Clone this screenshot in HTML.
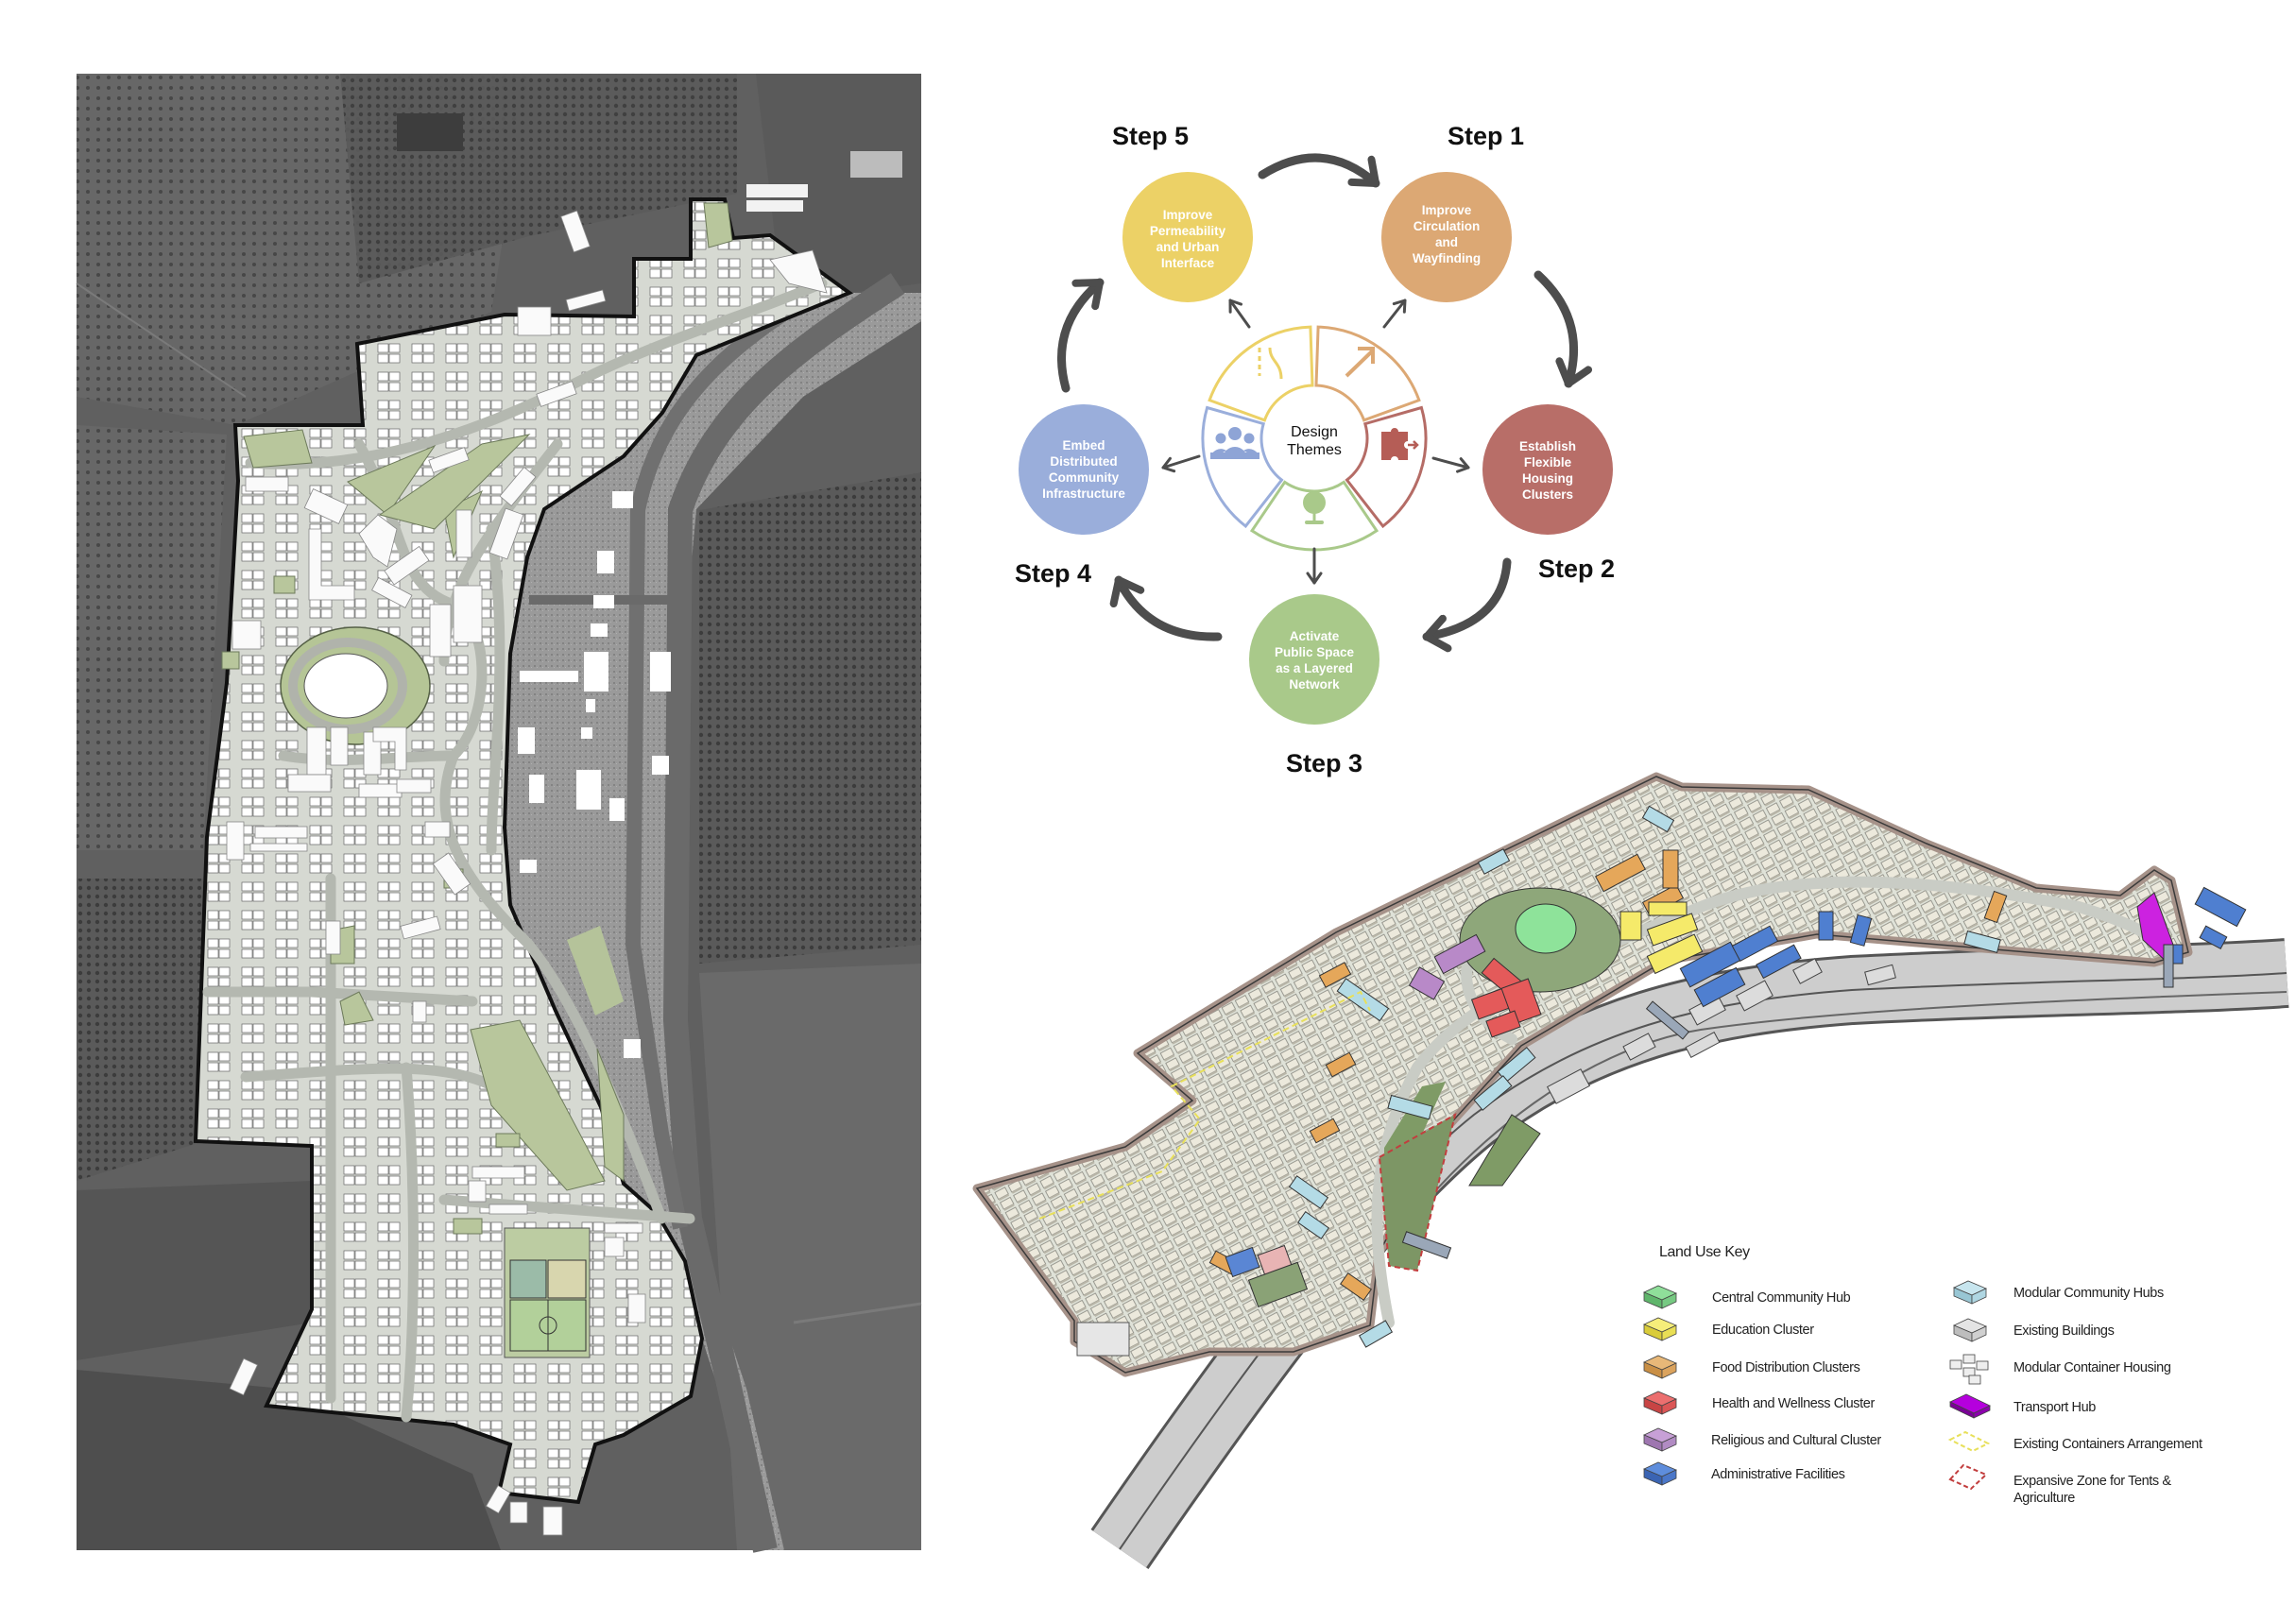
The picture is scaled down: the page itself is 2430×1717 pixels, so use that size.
<!DOCTYPE html>
<html><head><meta charset="utf-8">
<style>
html,body{margin:0;padding:0;background:#fff;}
body{width:2430px;height:1717px;overflow:hidden;position:relative;font-family:"Liberation Sans",sans-serif;}
svg{position:absolute;left:0;top:0;}
.st{font-family:"Liberation Sans",sans-serif;font-weight:bold;font-size:27px;fill:#111;}
.ct{font-family:"Liberation Sans",sans-serif;font-weight:bold;font-size:13.5px;fill:#fff;text-anchor:middle;}
.lg{font-family:"Liberation Sans",sans-serif;font-size:14.5px;fill:#222;letter-spacing:-0.4px;}
</style></head>
<body>
<svg width="2430" height="1717" viewBox="0 0 2430 1717" xmlns="http://www.w3.org/2000/svg">
<defs>
  <pattern id="trees" width="11" height="11" patternUnits="userSpaceOnUse">
    <rect width="11" height="11" fill="#676767"/>
    <circle cx="5" cy="5" r="2" fill="#474747"/>
  </pattern>
  <pattern id="trees2" width="9" height="9" patternUnits="userSpaceOnUse">
    <rect width="9" height="9" fill="#5a5a5a"/>
    <circle cx="4" cy="4" r="2.2" fill="#3c3c3c"/>
  </pattern>
  <pattern id="gravel" width="6" height="6" patternUnits="userSpaceOnUse">
    <rect width="6" height="6" fill="#9a9a9a"/>
    <rect x="1" y="2" width="2" height="2" fill="#838383"/>
    <rect x="4" y="4" width="1" height="1" fill="#b0b0b0"/>
  </pattern>
  <pattern id="blocks" width="36" height="30" patternUnits="userSpaceOnUse">
    <rect width="36" height="30" fill="#d6d9d2"/>
    <rect x="4" y="4" width="11" height="9" fill="#fff" stroke="#666" stroke-width="0.7"/>
    <rect x="16" y="4" width="11" height="9" fill="#fff" stroke="#666" stroke-width="0.7"/>
    <rect x="4" y="15" width="11" height="9" fill="#fff" stroke="#666" stroke-width="0.7"/>
    <rect x="16" y="15" width="11" height="9" fill="#fff" stroke="#666" stroke-width="0.7"/>
  </pattern>
  <pattern id="iso" width="16" height="12" patternUnits="userSpaceOnUse" patternTransform="rotate(-28)">
    <rect width="16" height="12" fill="#dfe2d8"/>
    <rect x="1" y="1" width="12" height="8" fill="#ece9dc" stroke="#7a7a72" stroke-width="0.7"/>
    <rect x="1" y="9" width="12" height="2" fill="#b9b6a8"/>
  </pattern>
  <marker id="ah" viewBox="0 0 20 20" refX="14" refY="10" markerWidth="20" markerHeight="20" markerUnits="userSpaceOnUse" orient="auto">
    <polyline points="4,3 14,10 4,17" fill="none" stroke="#4d4d4d" stroke-width="3" stroke-linecap="round" stroke-linejoin="round"/>
  </marker>
  <marker id="bh" viewBox="0 0 40 40" refX="28" refY="20" markerWidth="40" markerHeight="40" markerUnits="userSpaceOnUse" orient="auto">
    <polyline points="8,4 28,20 8,36" fill="none" stroke="#4d4d4d" stroke-width="8" stroke-linecap="round" stroke-linejoin="round"/>
  </marker>
</defs>

<!-- ============ LEFT AERIAL MAP ============ -->
<rect x="81" y="78" width="894" height="1563" fill="#606060"/>
<polygon points="81,78 560,78 520,330 250,450 81,420" fill="url(#trees)"/>
<polygon points="360,78 780,78 780,205 560,250 380,300" fill="url(#trees2)" opacity="0.9"/>
<polygon points="81,450 240,460 215,900 81,900" fill="url(#trees)"/>
<polygon points="81,930 215,930 210,1210 81,1250" fill="url(#trees2)"/>
<polygon points="81,1260 330,1250 330,1400 81,1440" fill="#555"/>
<polygon points="81,1450 300,1470 500,1560 530,1641 81,1641" fill="#4e4e4e"/>
<polygon points="740,540 975,500 975,1000 740,1020" fill="url(#trees2)"/>
<polygon points="740,1030 975,1020 975,1641 780,1641" fill="#6a6a6a"/>
<polygon points="800,78 975,78 975,300 900,310 820,250" fill="#5a5a5a"/>
<rect x="420" y="120" width="70" height="40" fill="#3d3d3d"/>
<rect x="900" y="160" width="55" height="28" fill="#bcbcbc"/>
<rect x="790" y="195" width="65" height="14" fill="#f2f2f2"/>
<rect x="790" y="212" width="60" height="12" fill="#f2f2f2"/>
<line x1="81" y1="300" x2="260" y2="420" stroke="#7a7a7a" stroke-width="2"/>
<line x1="840" y1="1400" x2="975" y2="1380" stroke="#7a7a7a" stroke-width="3"/>
<!-- river -->
<polygon points="899,310 737,376 701,437 660,483 576,539 558,590 540,692 534,876 540,958 588,1070 636,1172 660,1253 695,1284 725,1335 743,1417 770,1500 800,1641 830,1641 790,1470 760,1380 730,1290 725,1264 719,1080 725,672 737,539 850,420 975,340 975,310" fill="url(#gravel)"/>
<path d="M950,300 C860,360 760,420 720,540 L715,1080 L730,1290 L770,1460 L810,1641" fill="none" stroke="#6a6a6a" stroke-width="26"/>
<path d="M880,300 C780,360 700,420 675,540 L670,1000 L700,1200 L720,1300" fill="none" stroke="#707070" stroke-width="16"/>
<rect x="560" y="630" width="170" height="10" fill="#6a6a6a"/>
<rect x="648" y="520" width="22" height="18" fill="#fff"/>
<rect x="632" y="583" width="18" height="24" fill="#fff"/>
<rect x="628" y="630" width="22" height="14" fill="#fff"/>
<rect x="625" y="660" width="18" height="14" fill="#fff"/>
<rect x="618" y="690" width="26" height="42" fill="#fff"/>
<rect x="688" y="690" width="22" height="42" fill="#fff"/>
<rect x="550" y="710" width="62" height="12" fill="#fff"/>
<rect x="620" y="740" width="10" height="14" fill="#fff"/>
<rect x="548" y="770" width="18" height="28" fill="#fff"/>
<rect x="615" y="770" width="12" height="12" fill="#fff"/>
<rect x="610" y="815" width="26" height="42" fill="#fff"/>
<rect x="690" y="800" width="18" height="20" fill="#fff"/>
<rect x="560" y="820" width="16" height="30" fill="#fff"/>
<rect x="645" y="845" width="16" height="24" fill="#fff"/>
<rect x="550" y="910" width="18" height="14" fill="#fff"/>
<polygon points="600,995 635,980 660,1060 630,1075" fill="#b5c39a"/>
<rect x="660" y="1100" width="18" height="20" fill="#fff"/>
<!-- site -->
<polygon points="249,450 384,450 378,364 534,333 671,335 671,274 731,274 731,211 767,211 776,252 815,249 899,310 737,376 701,437 660,483 576,539 558,590 540,692 534,876 540,958 588,1070 636,1172 660,1253 695,1284 725,1335 743,1417 731,1478 660,1519 630,1529 612,1590 528,1580 540,1529 480,1508 282,1488 330,1386 330,1213 207,1208 219,886 240,723 252,509" fill="url(#blocks)" stroke="#111" stroke-width="4"/>
<!-- roads -->
<g fill="none" stroke="#b4b8b0" stroke-width="11" stroke-linecap="round">
  <path d="M265,490 C400,500 520,450 620,400 C700,360 800,330 870,300"/>
  <path d="M380,470 C430,560 420,620 480,640 C520,660 520,760 480,800 C450,880 500,940 560,1000 C600,1050 640,1130 700,1290"/>
  <path d="M590,470 C520,560 470,620 470,700"/>
  <path d="M220,1050 L330,1050 L500,1060"/>
  <path d="M300,800 C360,810 420,800 480,800"/>
  <path d="M260,1140 C400,1130 480,1120 540,1160"/>
  <path d="M430,1130 C440,1250 440,1400 430,1500"/>
  <path d="M470,1270 L730,1290"/>
  <path d="M350,930 L350,1480"/>
  <path d="M520,560 C540,700 520,820 520,900"/>
</g>
<!-- greens -->
<g fill="#b8c69c" stroke="#6d7a5b" stroke-width="1">
  <polygon points="258,462 320,455 330,490 268,495"/>
  <polygon points="368,510 460,472 410,545"/>
  <polygon points="470,540 510,520 480,590"/>
  <polygon points="402,545 510,470 560,460 460,560"/>
  <polygon points="745,215 770,215 775,255 750,262"/>
  <polygon points="498,1090 550,1080 640,1250 600,1260 520,1170"/>
  <polygon points="632,1110 660,1180 660,1250 640,1235"/>
  <polygon points="350,985 375,980 375,1020 350,1020"/>
  <rect x="290" y="610" width="22" height="18"/>
  <rect x="235" y="690" width="18" height="18"/>
  <rect x="470" y="920" width="20" height="20"/>
  <polygon points="360,1060 380,1050 395,1080 365,1085"/>
  <rect x="480" y="1290" width="30" height="16"/>
  <rect x="525" y="1200" width="25" height="14"/>
</g>
<ellipse cx="376" cy="726" rx="79" ry="62" fill="#b5c596" stroke="#556046" stroke-width="1.5"/>
<ellipse cx="368" cy="726" rx="58" ry="46" fill="none" stroke="#b0b3ab" stroke-width="10"/>
<ellipse cx="366" cy="726" rx="44" ry="34" fill="#fff" stroke="#555" stroke-width="1"/>
<!-- sports -->
<rect x="534" y="1300" width="90" height="137" fill="#bccca2" stroke="#555" stroke-width="1"/>
<rect x="540" y="1334" width="38" height="40" fill="#9bbba8" stroke="#333" stroke-width="1"/>
<rect x="580" y="1334" width="40" height="40" fill="#d8d6ae" stroke="#333" stroke-width="1"/>
<rect x="540" y="1376" width="80" height="54" fill="#b2d09a" stroke="#333" stroke-width="1"/>
<circle cx="580" cy="1403" r="9" fill="none" stroke="#333"/>
<line x1="580" y1="1376" x2="580" y2="1430" stroke="#333"/>
<!-- white buildings -->
<g fill="#fafafa" stroke="#888" stroke-width="0.8">
  <rect x="260" y="505" width="45" height="15"/>
  <rect x="325" y="525" width="40" height="22" transform="rotate(25 345 536)"/>
  <polygon points="327,560 340,560 340,620 375,620 375,635 327,635"/>
  <polygon points="380,565 400,545 420,560 410,600 395,590"/>
  <rect x="408" y="590" width="45" height="18" transform="rotate(-35 430 599)"/>
  <rect x="395" y="620" width="40" height="15" transform="rotate(28 415 627)"/>
  <rect x="455" y="640" width="22" height="55"/>
  <rect x="483" y="540" width="16" height="50"/>
  <rect x="480" y="620" width="30" height="60"/>
  <rect x="526" y="540" width="20" height="50" transform="rotate(20 536 565)"/>
  <rect x="540" y="495" width="16" height="40" transform="rotate(40 548 515)"/>
  <rect x="455" y="480" width="40" height="14" transform="rotate(-20 475 487)"/>
  <rect x="569" y="410" width="40" height="14" transform="rotate(-20 589 417)"/>
  <rect x="600" y="225" width="18" height="40" transform="rotate(-20 609 245)"/>
  <rect x="246" y="657" width="30" height="30"/>
  <rect x="325" y="770" width="20" height="50"/>
  <rect x="350" y="770" width="18" height="40"/>
  <rect x="385" y="775" width="18" height="45"/>
  <polygon points="395,770 430,770 430,815 418,815 418,785 395,785"/>
  <rect x="305" y="820" width="45" height="18"/>
  <rect x="380" y="830" width="45" height="14"/>
  <rect x="420" y="825" width="36" height="14"/>
  <rect x="240" y="870" width="18" height="40"/>
  <rect x="270" y="875" width="55" height="12"/>
  <rect x="265" y="893" width="60" height="8"/>
  <rect x="450" y="870" width="26" height="16"/>
  <rect x="468" y="905" width="20" height="40" transform="rotate(-35 478 925)"/>
  <rect x="425" y="975" width="40" height="14" transform="rotate(-15 445 982)"/>
  <rect x="345" y="975" width="15" height="35"/>
  <rect x="437" y="1060" width="14" height="22"/>
  <rect x="250" y="1440" width="16" height="35" transform="rotate(25 258 1457)"/>
  <rect x="500" y="1235" width="55" height="12"/>
  <rect x="496" y="1250" width="18" height="22"/>
  <rect x="518" y="1275" width="40" height="10"/>
  <rect x="640" y="1310" width="20" height="20"/>
  <rect x="665" y="1370" width="18" height="30"/>
  <rect x="640" y="1295" width="40" height="10"/>
  <rect x="575" y="1595" width="20" height="30"/>
  <rect x="540" y="1590" width="18" height="22"/>
  <rect x="520" y="1575" width="15" height="25" transform="rotate(30 528 1587)"/>
  <rect x="548" y="325" width="35" height="30"/>
  <polygon points="815,275 860,265 875,310 835,300"/>
  <rect x="600" y="312" width="40" height="12" transform="rotate(-15 620 318)"/>
</g>

<!-- ============ CYCLE DIAGRAM ============ -->
<g stroke-width="3" fill="#fff" transform="translate(0,25)">
  <path d="M1395.1,321.1 A118,118 0 0 1 1501.9,398.6 L1443.6,419.8 A56,56 0 0 0 1393,383 Z" stroke="#dca874"/>
  <path d="M1504.4,406.5 A118,118 0 0 1 1463.7,532 L1425.5,483.1 A56,56 0 0 0 1444.8,423.6 Z" stroke="#b56c66"/>
  <path d="M1457,536.8 A118,118 0 0 1 1325,536.8 L1359.7,485.4 A56,56 0 0 0 1422.3,485.4 Z" stroke="#a9c98a"/>
  <path d="M1318.3,532 A118,118 0 0 1 1277.6,406.5 L1337.2,423.6 A56,56 0 0 0 1356.5,483.1 Z" stroke="#9aaedb"/>
  <path d="M1280.1,398.6 A118,118 0 0 1 1386.9,321.1 L1389,383 A56,56 0 0 0 1338.4,419.8 Z" stroke="#ecd166"/>
</g>
<!-- icons -->
<line x1="1333" y1="368" x2="1333" y2="398" stroke="#ecd166" stroke-width="3" stroke-dasharray="5,4"/>
<path d="M1344,368 C1344,383 1356,383 1356,401" stroke="#ecd166" stroke-width="3" fill="none"/>
<line x1="1425" y1="398" x2="1453" y2="371" stroke="#dca874" stroke-width="4"/>
<polyline points="1437,369 1453,369 1453,385" stroke="#dca874" stroke-width="4" fill="none"/>
<path d="M1462,457 h10 a4,4 0 1 1 8,0 h10 v10 a4,4 0 1 0 0,8 v12 h-10 a4,4 0 1 0 -8,0 h-10 z" fill="#b55d56"/>
<path d="M1490,471 h10 m-4,-4 l4,4 l-4,4" stroke="#b55d56" stroke-width="2.5" fill="none"/>
<circle cx="1391" cy="532" r="12" fill="#a9c98a"/>
<line x1="1391" y1="543" x2="1391" y2="552" stroke="#a9c98a" stroke-width="3"/>
<rect x="1381" y="551" width="20" height="4" rx="2" fill="#a9c98a"/>
<g transform="translate(4,24)">
<circle cx="1303" cy="435" r="7" fill="#8ea4d6"/><circle cx="1288" cy="440" r="5.5" fill="#8ea4d6"/><circle cx="1318" cy="440" r="5.5" fill="#8ea4d6"/>
<path d="M1290,462 a13,13 0 0 1 26,0 z M1277,462 a11,11 0 0 1 17,-9 M1329,462 a11,11 0 0 0 -17,-9" fill="#8ea4d6"/>
<rect x="1277" y="455" width="52" height="7" fill="#8ea4d6"/>
</g>
<text x="1391" y="462" font-size="16" font-family="Liberation Sans, sans-serif" fill="#111" text-anchor="middle">Design</text>
<text x="1391" y="481" font-size="16" font-family="Liberation Sans, sans-serif" fill="#111" text-anchor="middle">Themes</text>
<!-- small arrows -->
<g stroke="#4d4d4d" stroke-width="3" fill="none" marker-end="url(#ah)" stroke-linecap="round">
  <line x1="1322" y1="346" x2="1302" y2="318"/>
  <line x1="1465" y1="346" x2="1487" y2="318"/>
  <line x1="1517" y1="485" x2="1554" y2="495"/>
  <line x1="1391" y1="581" x2="1391" y2="617"/>
  <line x1="1269" y1="483" x2="1231" y2="495"/>
</g>
<!-- big arrows -->
<g stroke="#4d4d4d" stroke-width="9" fill="none" marker-end="url(#bh)" stroke-linecap="round">
  <path d="M1336,185 Q1400,145 1456,194"/>
  <path d="M1628,291 Q1680,339 1660,406"/>
  <path d="M1595,595 Q1590,660 1510,674"/>
  <path d="M1289,674 Q1215,676 1184,614"/>
  <path d="M1128,411 Q1110,345 1164,299"/>
</g>
<!-- circles -->
<circle cx="1257" cy="251" r="69" fill="#ecd166"/>
<circle cx="1531" cy="251" r="69" fill="#dca874"/>
<circle cx="1638" cy="497" r="69" fill="#b86e68"/>
<circle cx="1391" cy="698" r="69" fill="#a9c98a"/>
<circle cx="1147" cy="497" r="69" fill="#9aaedb"/>
<text class="ct"><tspan x="1257" y="232">Improve</tspan><tspan x="1257" y="249">Permeability</tspan><tspan x="1257" y="266">and Urban</tspan><tspan x="1257" y="283">Interface</tspan></text>
<text class="ct"><tspan x="1531" y="227">Improve</tspan><tspan x="1531" y="244">Circulation</tspan><tspan x="1531" y="261">and</tspan><tspan x="1531" y="278">Wayfinding</tspan></text>
<text class="ct"><tspan x="1638" y="477">Establish</tspan><tspan x="1638" y="494">Flexible</tspan><tspan x="1638" y="511">Housing</tspan><tspan x="1638" y="528">Clusters</tspan></text>
<text class="ct"><tspan x="1391" y="678">Activate</tspan><tspan x="1391" y="695">Public Space</tspan><tspan x="1391" y="712">as a Layered</tspan><tspan x="1391" y="729">Network</tspan></text>
<text class="ct"><tspan x="1147" y="476">Embed</tspan><tspan x="1147" y="493">Distributed</tspan><tspan x="1147" y="510">Community</tspan><tspan x="1147" y="527">Infrastructure</tspan></text>
<text class="st" x="1177" y="153">Step 5</text>
<text class="st" x="1532" y="153">Step 1</text>
<text class="st" x="1628" y="611">Step 2</text>
<text class="st" x="1361" y="817">Step 3</text>
<text class="st" x="1074" y="616">Step 4</text>

<!-- ============ ISOMETRIC MAP ============ -->
<g fill="none" stroke-linecap="butt">
  <path d="M1185,1640 C1350,1400 1460,1260 1560,1180 C1680,1090 1800,1060 1960,1048 C2150,1038 2300,1038 2420,1030" stroke="#555" stroke-width="74"/>
  <path d="M1185,1640 C1350,1400 1460,1260 1560,1180 C1680,1090 1800,1060 1960,1048 C2150,1038 2300,1038 2420,1030" stroke="#cdcdcd" stroke-width="68"/>
  <path d="M1185,1640 C1350,1400 1460,1260 1560,1180 C1680,1090 1800,1060 1960,1048 C2150,1038 2300,1038 2420,1030" stroke="#555" stroke-width="2"/>
  <path d="M1470,1320 C1560,1200 1680,1110 1800,1090 C1950,1068 2200,1058 2420,1050" stroke="#666" stroke-width="2"/>
</g>
<polygon points="1555,1255 1600,1180 1630,1200 1590,1255" fill="#7f9b66" stroke="#333"/>
<g fill="#dcdcdc" stroke="#444" stroke-width="1">
  <rect x="1640" y="1140" width="40" height="20" transform="rotate(-28 1660 1150)"/>
  <rect x="1720" y="1100" width="30" height="16" transform="rotate(-28 1735 1108)"/>
  <rect x="1790" y="1060" width="34" height="18" transform="rotate(-28 1807 1069)"/>
  <rect x="1840" y="1045" width="34" height="18" transform="rotate(-28 1857 1054)"/>
  <rect x="1900" y="1020" width="26" height="16" transform="rotate(-28 1913 1028)"/>
  <rect x="1975" y="1025" width="30" height="14" transform="rotate(-15 1990 1032)"/>
  <rect x="1785" y="1100" width="34" height="12" transform="rotate(-28 1802 1106)"/>
</g>
<polygon points="1034,1258 1191,1214 1262,1165 1204,1115 1414,987 1753,822 1780,833 1914,836 2039,893 2155,940 2244,948 2280,921 2298,932 2316,1008 2280,1019 2146,1008 1923,989 1762,1017 1610,1107 1530,1195 1459,1327 1450,1403 1369,1431 1280,1431 1191,1453 1137,1420 1137,1398" fill="url(#iso)" stroke="#a69289" stroke-width="9" stroke-linejoin="round"/>
<polygon points="1034,1258 1191,1214 1262,1165 1204,1115 1414,987 1753,822 1780,833 1914,836 2039,893 2155,940 2244,948 2280,921 2298,932 2316,1008 2280,1019 2146,1008 1923,989 1762,1017 1610,1107 1530,1195 1459,1327 1450,1403 1369,1431 1280,1431 1191,1453 1137,1420 1137,1398" fill="none" stroke="#3a3a3a" stroke-width="1.5"/>
<rect x="1140" y="1400" width="55" height="35" fill="#e6e6e6" stroke="#555"/>
<g fill="none" stroke="#c9ccc5" stroke-width="12" stroke-linecap="round">
  <path d="M1470,1400 C1450,1300 1450,1220 1500,1130 C1560,1050 1680,1010 1800,960 C1900,920 2050,930 2200,960 C2250,975 2280,990 2300,1010"/>
  <path d="M1600,1100 C1560,1080 1540,1040 1560,1000"/>
</g>
<polygon points="1465,1215 1505,1150 1530,1145 1492,1230 1465,1235" fill="#7f9b66"/>
<polygon points="1460,1225 1540,1180 1500,1345 1470,1340" fill="#7d9665" stroke="#c23e3e" stroke-width="2" stroke-dasharray="6,4"/>
<ellipse cx="1630" cy="995" rx="85" ry="55" fill="#8ea77a" stroke="#333"/>
<ellipse cx="1636" cy="983" rx="32" ry="26" fill="#8ee39a" stroke="#333"/>
<g stroke="#333" stroke-width="1">
  <g fill="#e5a75a">
    <rect x="1690" y="915" width="50" height="18" transform="rotate(-28 1715 924)"/>
    <rect x="1740" y="945" width="40" height="16" transform="rotate(-28 1760 953)"/>
    <rect x="1760" y="900" width="16" height="40"/>
    <rect x="1398" y="1025" width="30" height="14" transform="rotate(-28 1413 1032)"/>
    <rect x="1405" y="1120" width="28" height="14" transform="rotate(-28 1419 1127)"/>
    <rect x="1388" y="1190" width="28" height="14" transform="rotate(-28 1402 1197)"/>
    <rect x="1282" y="1330" width="28" height="14" transform="rotate(28 1296 1337)"/>
    <rect x="1420" y="1355" width="30" height="14" transform="rotate(35 1435 1362)"/>
    <rect x="2105" y="945" width="14" height="30" transform="rotate(20 2112 960)"/>
  </g>
  <g fill="#f5ea6a">
    <rect x="1715" y="965" width="22" height="30"/>
    <rect x="1745" y="975" width="50" height="18" transform="rotate(-20 1770 984)"/>
    <rect x="1745" y="1000" width="55" height="20" transform="rotate(-25 1772 1010)"/>
    <rect x="1745" y="955" width="40" height="14"/>
  </g>
  <g fill="#4f7fd0">
    <rect x="1780" y="1010" width="60" height="22" transform="rotate(-28 1810 1021)"/>
    <rect x="1795" y="1035" width="50" height="20" transform="rotate(-28 1820 1045)"/>
    <rect x="1835" y="990" width="45" height="18" transform="rotate(-28 1857 999)"/>
    <rect x="1860" y="1010" width="45" height="16" transform="rotate(-28 1882 1018)"/>
    <rect x="1925" y="965" width="15" height="30"/>
    <rect x="1962" y="970" width="15" height="30" transform="rotate(15 1970 985)"/>
    <rect x="1300" y="1325" width="30" height="22" fill="#5a86d4" transform="rotate(-20 1315 1336)"/>
    <rect x="2325" y="950" width="50" height="20" transform="rotate(28 2350 960)"/>
    <rect x="2330" y="985" width="25" height="14" transform="rotate(28 2342 992)"/>
    <rect x="2300" y="1000" width="10" height="20"/>
  </g>
  <g fill="#e45a5a">
    <rect x="1570" y="1025" width="40" height="20" transform="rotate(40 1590 1035)"/>
    <rect x="1560" y="1050" width="45" height="22" transform="rotate(-20 1582 1061)"/>
    <rect x="1595" y="1040" width="30" height="40" transform="rotate(-20 1610 1060)"/>
    <rect x="1575" y="1075" width="32" height="18" transform="rotate(-20 1591 1084)"/>
  </g>
  <g fill="#b889c8">
    <rect x="1520" y="1000" width="50" height="20" transform="rotate(-28 1545 1010)"/>
    <rect x="1495" y="1030" width="30" height="22" transform="rotate(30 1510 1041)"/>
  </g>
  <g fill="#b4dbe6">
    <rect x="1740" y="860" width="30" height="14" transform="rotate(30 1755 867)"/>
    <rect x="1566" y="905" width="30" height="14" transform="rotate(-28 1581 912)"/>
    <rect x="1415" y="1050" width="55" height="16" transform="rotate(35 1442 1058)"/>
    <rect x="1585" y="1120" width="40" height="14" transform="rotate(-40 1605 1127)"/>
    <rect x="1560" y="1150" width="40" height="14" transform="rotate(-40 1580 1157)"/>
    <rect x="1470" y="1165" width="45" height="14" transform="rotate(15 1492 1172)"/>
    <rect x="1365" y="1255" width="40" height="14" transform="rotate(35 1385 1262)"/>
    <rect x="1375" y="1290" width="30" height="14" transform="rotate(35 1390 1297)"/>
    <rect x="1440" y="1405" width="32" height="14" transform="rotate(-30 1456 1412)"/>
    <rect x="2080" y="990" width="36" height="14" transform="rotate(15 2098 997)"/>
  </g>
  <polygon points="2262,960 2280,945 2300,1000 2295,1020 2268,995" fill="#cc22e0"/>
  <rect x="1334" y="1323" width="30" height="22" fill="#e8b4b4" transform="rotate(-20 1349 1334)"/>
  <rect x="1325" y="1345" width="55" height="30" fill="#8aa276" transform="rotate(-20 1352 1360)"/>
</g>
<rect x="1485" y="1312" width="50" height="12" fill="#9aa7b8" stroke="#333" transform="rotate(20 1510 1318)"/>
<rect x="1740" y="1075" width="50" height="10" fill="#9aa7b8" stroke="#333" transform="rotate(40 1765 1080)"/>
<rect x="2290" y="1000" width="10" height="45" fill="#9aa7b8" stroke="#333"/>
<polyline points="1100,1290 1230,1240 1270,1185 1240,1150 1440,1050 1450,1070" fill="none" stroke="#e8e05a" stroke-width="2" stroke-dasharray="7,4"/>

<!-- ============ LEGEND ============ -->
<text x="1756" y="1330" font-family="Liberation Sans, sans-serif" font-size="16" fill="#222" letter-spacing="-0.4">Land Use Key</text>
<g stroke="#444" stroke-width="0.8">
  <g transform="translate(1740,1361)"><polygon points="0,7 15,0 34,8 19,15" fill="#8fdf9a"/><polygon points="0,7 19,15 19,24 0,16" fill="#5fb56b"/><polygon points="19,15 34,8 34,17 19,24" fill="#76c982"/></g>
  <g transform="translate(1740,1395)"><polygon points="0,7 15,0 34,8 19,15" fill="#f6ee7a"/><polygon points="0,7 19,15 19,24 0,16" fill="#d9cc3a"/><polygon points="19,15 34,8 34,17 19,24" fill="#e9df55"/></g>
  <g transform="translate(1740,1435)"><polygon points="0,7 15,0 34,8 19,15" fill="#e8b878"/><polygon points="0,7 19,15 19,24 0,16" fill="#c98f45"/><polygon points="19,15 34,8 34,17 19,24" fill="#dba35d"/></g>
  <g transform="translate(1740,1473)"><polygon points="0,7 15,0 34,8 19,15" fill="#ec6f6f"/><polygon points="0,7 19,15 19,24 0,16" fill="#c84444"/><polygon points="19,15 34,8 34,17 19,24" fill="#db5656"/></g>
  <g transform="translate(1740,1512)"><polygon points="0,7 15,0 34,8 19,15" fill="#c7a0d6"/><polygon points="0,7 19,15 19,24 0,16" fill="#9e76b0"/><polygon points="19,15 34,8 34,17 19,24" fill="#b18bc3"/></g>
  <g transform="translate(1740,1548)"><polygon points="0,7 15,0 34,8 19,15" fill="#5e8ddc"/><polygon points="0,7 19,15 19,24 0,16" fill="#3a64b3"/><polygon points="19,15 34,8 34,17 19,24" fill="#4b77c8"/></g>
  <g transform="translate(2068,1356)"><polygon points="0,7 15,0 34,8 19,15" fill="#c7e5ee"/><polygon points="0,7 19,15 19,24 0,16" fill="#98c6d4"/><polygon points="19,15 34,8 34,17 19,24" fill="#afd6e2"/></g>
  <g transform="translate(2068,1396)"><polygon points="0,7 15,0 34,8 19,15" fill="#e4e4e4"/><polygon points="0,7 19,15 19,24 0,16" fill="#bdbdbd"/><polygon points="19,15 34,8 34,17 19,24" fill="#d0d0d0"/></g>
  <g transform="translate(2064,1432)" fill="#eee"><rect x="0" y="8" width="12" height="9"/><rect x="14" y="2" width="12" height="9"/><rect x="14" y="16" width="12" height="9"/><rect x="28" y="9" width="12" height="9"/><rect x="20" y="24" width="12" height="9"/></g>
  <g transform="translate(2064,1476)"><polygon points="0,8 17,0 42,12 25,20" fill="#b500dd"/><polygon points="0,8 25,20 25,25 0,13" fill="#7a0096"/><polygon points="25,20 42,12 42,17 25,25" fill="#8c00ad"/></g>
</g>
<polygon points="2064,1524 2080,1516 2104,1528 2088,1536" fill="none" stroke="#e8e05a" stroke-width="2" stroke-dasharray="5,3"/>
<polygon points="2064,1566 2078,1551 2102,1561 2086,1576" fill="none" stroke="#c23e3e" stroke-width="2" stroke-dasharray="5,3"/>
<g>
  <text class="lg" x="1812" y="1378">Central Community Hub</text>
  <text class="lg" x="1812" y="1412">Education Cluster</text>
  <text class="lg" x="1812" y="1452">Food Distribution Clusters</text>
  <text class="lg" x="1812" y="1490">Health and Wellness Cluster</text>
  <text class="lg" x="1811" y="1529">Religious and Cultural Cluster</text>
  <text class="lg" x="1811" y="1565">Administrative Facilities</text>
  <text class="lg" x="2131" y="1373">Modular Community Hubs</text>
  <text class="lg" x="2131" y="1413">Existing Buildings</text>
  <text class="lg" x="2131" y="1452">Modular Container Housing</text>
  <text class="lg" x="2131" y="1494">Transport Hub</text>
  <text class="lg" x="2131" y="1533">Existing Containers Arrangement</text>
  <text class="lg" x="2131" y="1572">Expansive Zone for Tents &amp;</text>
  <text class="lg" x="2131" y="1590">Agriculture</text>
</g>
</svg>
</body></html>
